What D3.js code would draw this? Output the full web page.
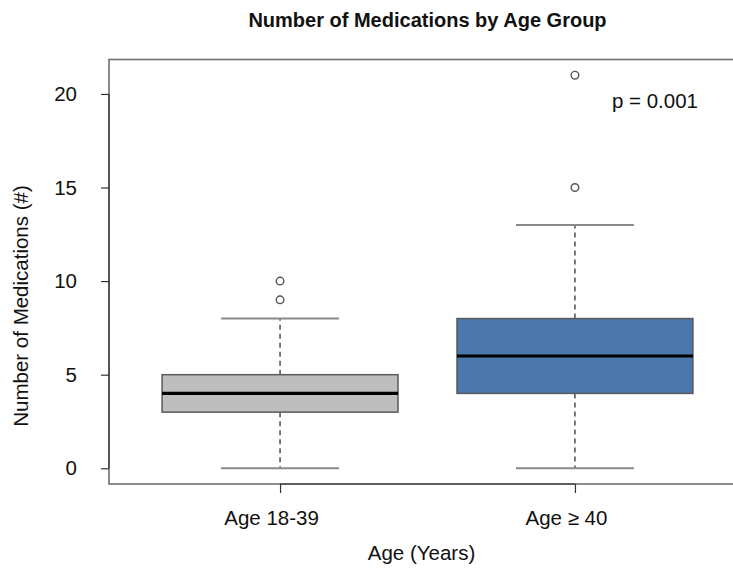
<!DOCTYPE html>
<html>
<head>
<meta charset="utf-8">
<script src="https://cdn.jsdelivr.net/npm/d3@7"></script>
<style>
  html, body { margin: 0; padding: 0; background: #fff; }
  svg { display: block; font-family: "Liberation Sans", Arial, Helvetica, sans-serif; }
</style>
</head>
<body>
<svg id="chart" width="733" height="573"></svg>
<script>
// ---- data ----
const categories = ["Age 18-39", "Age \u2265 40"];
const whiskerLow = [0, 0];
const q1 = [3, 4];
const medians = [4, 6];
const q3 = [5, 8];
const whiskerHigh = [8, 13];
const outliers = [[9, 10], [15, 21]];
const yTicks = [0, 5, 10, 15, 20];
const boxColors = ["#bebebe", "#4a78ad"];
const title = "Number of Medications by Age Group";
const xTitle = "Age (Years)";
const yTitle = "Number of Medications (#)";
const pLabel = "p = 0.001";

// ---- layout ----
const svg = d3.select("#chart");
const plotL = 109, plotR = 746, plotT = 59.5, plotB = 484;

const allVals = whiskerLow.concat(whiskerHigh, outliers.flat());
const yMin = d3.min(allVals), yMax = d3.max(allVals);
const pad = (yMax - yMin) * 0.04;
const y = d3.scaleLinear().domain([yMin - pad, yMax + pad]).range([plotB, plotT]);
const n = categories.length;
const xPad = n * 0.04;
const x = d3.scaleLinear().domain([0.5 - xPad, n + 0.5 + xPad]).range([plotL, plotR]);

const boxHalf = 0.4, capHalf = 0.2;

// frame
svg.append("rect")
  .attr("x", plotL).attr("y", plotT)
  .attr("width", plotR - plotL).attr("height", plotB - plotT)
  .attr("fill", "none").attr("stroke", "#6e6e6e").attr("stroke-width", 1.6);

// boxes
const g = svg.append("g");
categories.forEach((c, i) => {
  const cx = x(i + 1);
  g.append("line").attr("x1", cx).attr("x2", cx)
    .attr("y1", y(q3[i])).attr("y2", y(whiskerHigh[i]))
    .attr("stroke", "#222").attr("stroke-width", 1.2).attr("stroke-dasharray", "5,4");
  g.append("line").attr("x1", cx).attr("x2", cx)
    .attr("y1", y(q1[i])).attr("y2", y(whiskerLow[i]))
    .attr("stroke", "#222").attr("stroke-width", 1.2).attr("stroke-dasharray", "5,4");
  [whiskerLow[i], whiskerHigh[i]].forEach(v => {
    g.append("line").attr("x1", x(i + 1 - capHalf)).attr("x2", x(i + 1 + capHalf))
      .attr("y1", y(v)).attr("y2", y(v))
      .attr("stroke", "#8a8a8a").attr("stroke-width", 2);
  });
  g.append("rect")
    .attr("x", x(i + 1 - boxHalf)).attr("y", y(q3[i]))
    .attr("width", x(i + 1 + boxHalf) - x(i + 1 - boxHalf))
    .attr("height", y(q1[i]) - y(q3[i]))
    .attr("fill", boxColors[i]).attr("stroke", "#5a5a5a").attr("stroke-width", 1.5);
  g.append("line").attr("x1", x(i + 1 - boxHalf)).attr("x2", x(i + 1 + boxHalf))
    .attr("y1", y(medians[i])).attr("y2", y(medians[i]))
    .attr("stroke", "#000").attr("stroke-width", 3.2);
  outliers[i].forEach(v => {
    g.append("circle").attr("cx", cx).attr("cy", y(v)).attr("r", 3.8)
      .attr("fill", "#fff").attr("stroke", "#555").attr("stroke-width", 1.4);
  });
});

// y axis
const yAxis = svg.append("g").attr("transform", `translate(${plotL},0)`)
  .call(d3.axisLeft(y).tickValues(yTicks).tickSize(8).tickPadding(24));
yAxis.select(".domain").remove();
yAxis.append("line").attr("x1", 0).attr("x2", 0)
  .attr("y1", y(yTicks[0])).attr("y2", y(yTicks[yTicks.length - 1]))
  .attr("stroke", "#333").attr("stroke-width", 1.2);
yAxis.selectAll(".tick line").attr("stroke", "#333").attr("stroke-width", 1.2);
yAxis.selectAll(".tick text").attr("font-size", 20.5).attr("fill", "#111")
  .attr("font-family", "Liberation Sans, Arial, sans-serif");

// x axis
const xAxis = svg.append("g").attr("transform", `translate(0,${plotB})`)
  .call(d3.axisBottom(x).tickValues(d3.range(1, n + 1)).tickFormat(d => categories[d - 1])
    .tickSize(9).tickPadding(17));
xAxis.select(".domain").remove();
xAxis.append("line").attr("x1", x(1)).attr("x2", x(n)).attr("y1", 0).attr("y2", 0)
  .attr("stroke", "#333").attr("stroke-width", 1.2);
xAxis.selectAll(".tick line").attr("stroke", "#333").attr("stroke-width", 1.2);
xAxis.selectAll(".tick text").attr("font-size", 20.5).attr("fill", "#111")
  .attr("dx", -9)
  .attr("font-family", "Liberation Sans, Arial, sans-serif");

// titles
svg.append("text").attr("x", (plotL + plotR) / 2).attr("y", 27)
  .attr("text-anchor", "middle").attr("font-size", 20).attr("font-weight", "bold")
  .attr("fill", "#111").text(title);
svg.append("text").attr("x", (plotL + plotR) / 2 - 6).attr("y", 560)
  .attr("text-anchor", "middle").attr("font-size", 20.5).attr("fill", "#111").text(xTitle);
svg.append("text").attr("transform", "translate(28,306) rotate(-90)")
  .attr("text-anchor", "middle").attr("font-size", 20.5).attr("fill", "#111").text(yTitle);
svg.append("text").attr("x", 655).attr("y", 108)
  .attr("text-anchor", "middle").attr("font-size", 20.5).attr("fill", "#111").text(pLabel);
</script>
</body>
</html>
